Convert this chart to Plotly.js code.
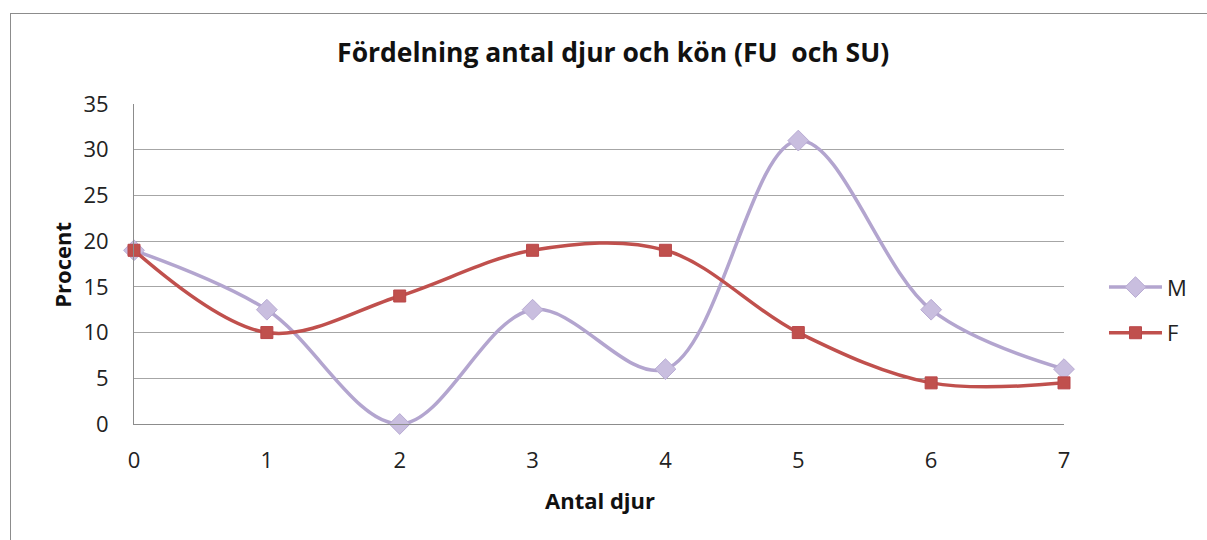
<!DOCTYPE html>
<html>
<head>
<meta charset="utf-8">
<script src="https://cdn.plot.ly/plotly-3.0.1.min.js"></script>
<style>
  html, body { margin: 0; padding: 0; background: #fff; }
  #wrap { position: relative; width: 1207px; height: 540px; overflow: hidden; }
  #chart { position: absolute; left: 0; top: 0; width: 1207px; height: 540px; }
  #frame { position: absolute; left: 10px; top: 13px; width: 1300px; height: 700px;
           border: 1px solid #8c8c8c; pointer-events: none; box-sizing: border-box; }
</style>
</head>
<body>
<div id="wrap">
  <div id="chart"></div>
  <div id="frame"></div>
</div>
<script>
const categories = [0, 1, 2, 3, 4, 5, 6, 7];
const seriesM = [19, 12.5, 0, 12.5, 6, 31, 12.5, 6];
const seriesF = [19, 10, 14, 19, 19, 10, 4.5, 4.5];
const yTicks = [0, 5, 10, 15, 20, 25, 30, 35];
const titleText = 'Fördelning antal djur och kön (FU&nbsp; och SU)';
const xTitle = 'Antal djur';
const yTitle = 'Procent';

const font = 'Open Sans, Liberation Sans, sans-serif';

const traces = [
  {
    x: categories, y: seriesM, name: 'M', type: 'scatter', mode: 'lines+markers',
    line: { color: '#b3a5cf', width: 3.5, shape: 'spline', smoothing: 1 },
    marker: { symbol: 'diamond', size: 16, color: '#c9bedf', line: { color: '#b8abd3', width: 1 } },
    cliponaxis: false, legendgroup: 'm'
  },
  {
    x: categories, y: seriesF, name: 'F', type: 'scatter', mode: 'lines+markers',
    line: { color: '#c0504d', width: 3.5, shape: 'spline', smoothing: 1 },
    marker: { symbol: 'square', size: 12, color: '#c0504d', line: { color: '#b9474a', width: 1 } },
    cliponaxis: false, legendgroup: 'f'
  }
];

const layout = {
  width: 1207, height: 540,
  margin: { l: 134, r: 143, t: 104, b: 116, pad: 0 },
  paper_bgcolor: '#ffffff', plot_bgcolor: '#ffffff',
  font: { family: font, size: 22, color: '#222' },
  title: {
    text: '<b>' + titleText + '</b>',
    font: { family: font, size: 26.5, color: '#111' },
    xref: 'container', x: 0.508, xanchor: 'center',
    yref: 'container', y: 1 - 53 / 540, yanchor: 'middle'
  },
  xaxis: {
    range: [0, 7], tickvals: categories, ticktext: categories.map(String),
    showgrid: false, zeroline: false, showline: true, linecolor: '#8c8c8c', linewidth: 1,
    ticks: '', ticklabelstandoff: 17, tickfont: { family: font, size: 22, color: '#222' },
    fixedrange: true
  },
  yaxis: {
    range: [0, 35], tickvals: yTicks, ticktext: yTicks.map(String),
    showgrid: true, gridcolor: '#a6a6a6', gridwidth: 1, zeroline: false,
    showline: true, linecolor: '#8c8c8c', linewidth: 1,
    ticks: '', ticklabelstandoff: 20, tickfont: { family: font, size: 22, color: '#222' },
    fixedrange: true
  },
  showlegend: true,
  legend: {
    x: 1.043, xanchor: 'left', y: (424 - 310.5) / 319.5, yanchor: 'middle',
    font: { family: font, size: 22, color: '#222' },
    bgcolor: 'rgba(0,0,0,0)', tracegroupgap: 14, itemwidth: 53
  },
  annotations: [
    { text: '<b>' + xTitle + '</b>', xref: 'paper', yref: 'paper', x: (600 - 134) / 930, y: (424 - 500) / 319.5,
      xanchor: 'center', yanchor: 'middle', showarrow: false, font: { family: font, size: 22, color: '#111' } },
    { text: '<b>' + yTitle + '</b>', xref: 'paper', yref: 'paper', x: (62 - 134) / 930, y: (424 - 265) / 319.5,
      xanchor: 'center', yanchor: 'middle', textangle: -90, showarrow: false, font: { family: font, size: 22, color: '#111' } }
  ]
};

Plotly.newPlot('chart', traces, layout, { displayModeBar: false, staticPlot: true });
</script>
</body>
</html>
